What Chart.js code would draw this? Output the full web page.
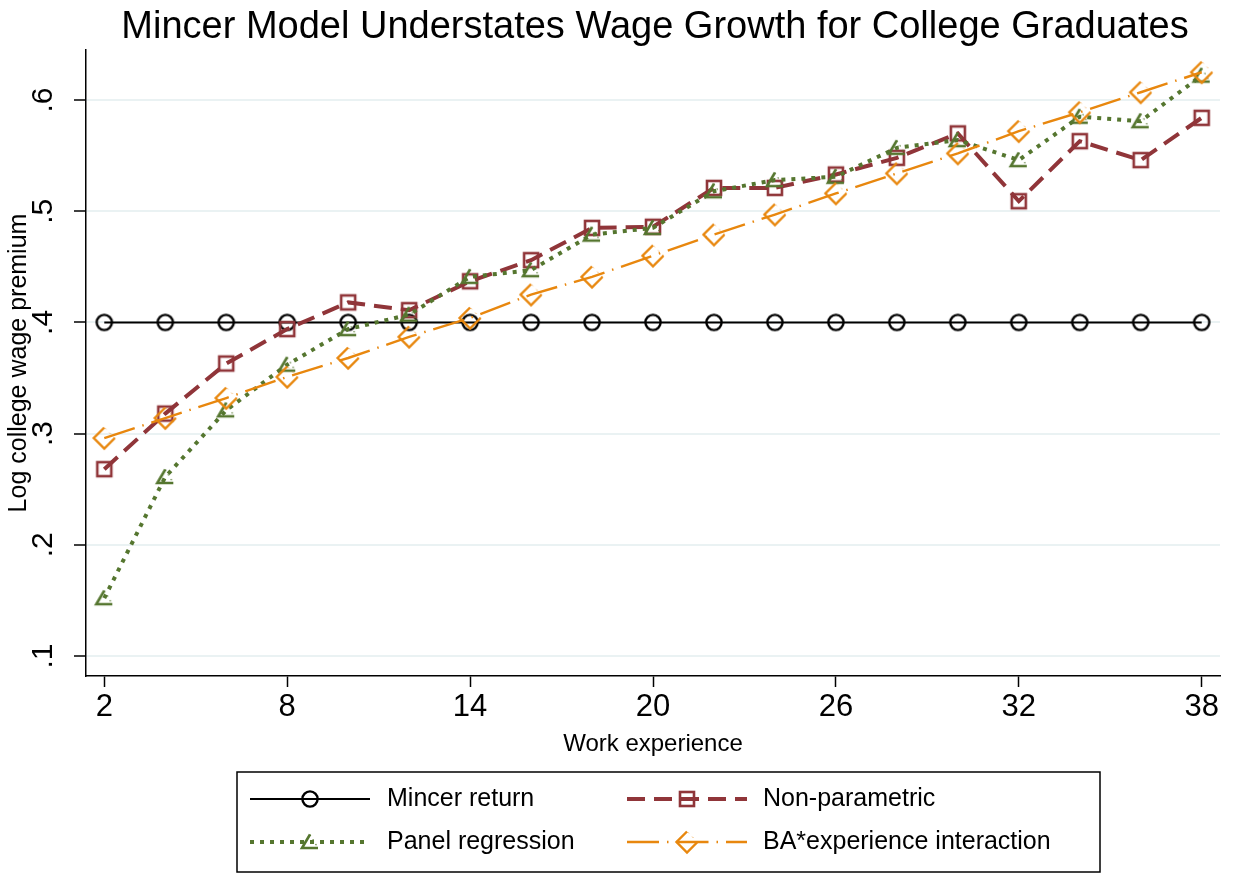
<!DOCTYPE html>
<html>
<head>
<meta charset="utf-8">
<script src="https://cdn.jsdelivr.net/npm/chart.js@4"></script>
<style>
html,body{margin:0;padding:0;background:#fff;}
#wrap{position:relative;width:1233px;height:874px;}
</style>
</head>
<body>
<div id="wrap"><canvas id="c" width="1233" height="874"></canvas></div>
<script>
const FONT = "'Liberation Sans', Arial, Helvetica, sans-serif";

// ---- data ----
const experience = [2,4,6,8,10,12,14,16,18,20,22,24,26,28,30,32,34,36,38];
const mincerReturn = [0.40,0.40,0.40,0.40,0.40,0.40,0.40,0.40,0.40,0.40,0.40,0.40,0.40,0.40,0.40,0.40,0.40,0.40,0.40];
const nonParametric = [0.268,0.318,0.363,0.394,0.418,0.411,0.437,0.456,0.485,0.486,0.521,0.521,0.533,0.548,0.570,0.509,0.563,0.546,0.584];
const panelRegression = [0.152,0.261,0.321,0.362,0.394,0.407,0.441,0.447,0.479,0.485,0.518,0.528,0.531,0.557,0.564,0.546,0.585,0.581,0.622];
const baInteraction = [0.296,0.314,0.332,0.351,0.368,0.387,0.404,0.425,0.441,0.460,0.479,0.497,0.516,0.534,0.552,0.572,0.589,0.607,0.625];
const xTicks = [2,8,14,20,26,32,38];
const yTicks = [0.1,0.2,0.3,0.4,0.5,0.6];
const yTickLabels = ['.1','.2','.3','.4','.5','.6'];
const seriesNames = ['Mincer return','Non-parametric','Panel regression','BA*experience interaction'];
const chartTitle = 'Mincer Model Understates Wage Growth for College Graduates';

const pts = arr => experience.map((x,i)=>({x:x, y:arr[i]}));

const styles = [
  {color:'#000000', width:2, dash:[], marker:'circle', pw:2.4},
  {color:'#903539', width:4, dash:[18,9], marker:'square', pw:2.6},
  {color:'#55762F', width:4, dash:[4,6], marker:'triangle', pw:2.6},
  {color:'#E8870E', width:2.4, dash:[32,8,1.5,8], marker:'diamond', pw:2.4}
];
const seriesData = [mincerReturn, nonParametric, panelRegression, baInteraction];

function makeMarker(kind, color, lw) {
  const size = 32;
  const c = document.createElement('canvas');
  c.width = size; c.height = size;
  const g = c.getContext('2d');
  const m = size / 2;
  g.strokeStyle = color;
  g.lineWidth = lw;
  g.lineCap = 'butt';
  g.lineJoin = 'miter';
  if (kind === 'circle') {
    g.beginPath(); g.arc(m, m, 7.6, 0, 2*Math.PI); g.stroke();
  } else if (kind === 'square') {
    g.strokeRect(m - 7, m - 7, 14, 14);
  } else if (kind === 'triangle') {
    g.beginPath();
    g.moveTo(m + 8, m + 6); g.lineTo(m - 8, m + 6); g.lineTo(m, m - 7.5);
    g.stroke();
    g.setLineDash([1.5, 4]); g.lineWidth = 1.2;
    g.beginPath(); g.moveTo(m, m - 7.5); g.lineTo(m + 8, m + 6); g.stroke();
  } else if (kind === 'diamond') {
    const r = 10.5;
    g.beginPath();
    g.moveTo(m, m - r); g.lineTo(m - r, m); g.lineTo(m, m + r); g.lineTo(m + r, m);
    g.stroke();
    g.setLineDash([1.2, 5]); g.lineWidth = 1;
    g.beginPath(); g.moveTo(m + r, m); g.lineTo(m, m - r); g.stroke();
  }
  return c;
}
const markers = styles.map(s => makeMarker(s.marker, s.color, s.pw));

const datasets = seriesData.map((arr,i)=>({
  label: seriesNames[i],
  data: pts(arr),
  borderColor: styles[i].color,
  borderWidth: styles[i].width,
  borderDash: styles[i].dash,
  borderCapStyle: 'butt',
  pointStyle: markers[i],
  pointRadius: 9,
  pointBorderColor: styles[i].color,
  pointBackgroundColor: 'rgba(0,0,0,0)',
  fill: false,
  tension: 0,
  order: 4 - i
}));

const overlayPlugin = {
  id: 'overlay',
  afterDraw(chart) {
    const ctx = chart.ctx;
    const ys = chart.scales.y;
    const area = chart.chartArea;
    ctx.save();
    ctx.fillStyle = '#000';
    // title
    ctx.font = '38px ' + FONT;
    ctx.textAlign = 'center';
    ctx.textBaseline = 'middle';
    ctx.fillText(chartTitle, (area.left + area.right) / 2 + 2, 28);
    // rotated y tick labels (baseline on the right side)
    ctx.font = '30px ' + FONT;
    ctx.textBaseline = 'alphabetic';
    yTicks.forEach((v,i)=>{
      const py = ys.getPixelForValue(v);
      ctx.save();
      ctx.translate(area.left - 34, py);
      ctx.rotate(-Math.PI/2);
      ctx.fillText(yTickLabels[i], 0, 0);
      ctx.restore();
    });
    // y title
    ctx.save();
    ctx.font = '25px ' + FONT;
    ctx.textBaseline = 'alphabetic';
    ctx.translate(26, (area.top + area.bottom)/2);
    ctx.rotate(-Math.PI/2);
    ctx.fillText('Log college wage premium', 0, 0);
    ctx.restore();

    // legend
    const bx = 237, by = 772, bw = 863, bh = 100;
    ctx.strokeStyle = '#000';
    ctx.lineWidth = 1.5;
    ctx.strokeRect(bx, by, bw, bh);
    const cells = [
      {sx:250, mx:310, tx:387, y:799},
      {sx:627, mx:687, tx:763, y:799},
      {sx:250, mx:310, tx:387, y:842},
      {sx:627, mx:687, tx:763, y:842}
    ];
    [0,1,2,3].forEach((si,k)=>{
      const c = cells[k];
      const s = styles[si];
      ctx.save();
      ctx.strokeStyle = s.color;
      ctx.lineWidth = s.width;
      ctx.setLineDash(s.dash);
      ctx.lineCap = 'butt';
      ctx.beginPath();
      ctx.moveTo(c.sx, c.y);
      ctx.lineTo(c.sx + 120, c.y);
      ctx.stroke();
      ctx.restore();
      const img = markers[si];
      ctx.drawImage(img, c.mx - img.width/2, c.y - img.height/2);
      ctx.fillStyle = '#000';
      ctx.font = '25px ' + FONT;
      ctx.textAlign = 'left';
      ctx.textBaseline = 'middle';
      ctx.fillText(seriesNames[si], c.tx, c.y);
    });
    ctx.restore();
  }
};

new Chart(document.getElementById('c'), {
  type: 'line',
  data: { datasets },
  plugins: [overlayPlugin],
  options: {
    responsive: false,
    animation: false,
    devicePixelRatio: 1,
    layout: { padding: { left: 0, right: 11, top: 50, bottom: 104 } },
    plugins: {
      legend: { display: false },
      tooltip: { enabled: false },
      title: { display: false }
    },
    scales: {
      x: {
        type: 'linear',
        min: 1.4, max: 38.6,
        afterBuildTicks: s => { s.ticks = xTicks.map(v=>({value:v})); },
        afterFit: s => { s.height = 94; },
        ticks: {
          color: '#000',
          font: { family: FONT, size: 31 },
          padding: 2,
          maxRotation: 0, minRotation: 0,
          autoSkip: false,
          callback: v => String(v)
        },
        grid: { drawOnChartArea: false, drawTicks: true, tickLength: 11, tickColor: '#000', tickWidth: 1.5 },
        border: { display: true, color: '#000', width: 1.5 },
        title: {
          display: true, text: 'Work experience', color: '#000',
          font: { family: FONT, size: 24, lineHeight: 1.2 },
          padding: { top: 11, bottom: 11 }
        }
      },
      y: {
        type: 'linear',
        min: 0.082, max: 0.645,
        afterBuildTicks: s => { s.ticks = yTicks.map(v=>({value:v})); },
        afterFit: s => { s.width = 86; },
        ticks: { display: false },
        grid: { drawOnChartArea: true, color: '#EAF2F3', lineWidth: 2, drawTicks: true, tickLength: 12, tickColor: '#000', tickWidth: 1.5 },
        border: { display: true, color: '#000', width: 1.5 }
      }
    }
  }
});
</script>
</body>
</html>
